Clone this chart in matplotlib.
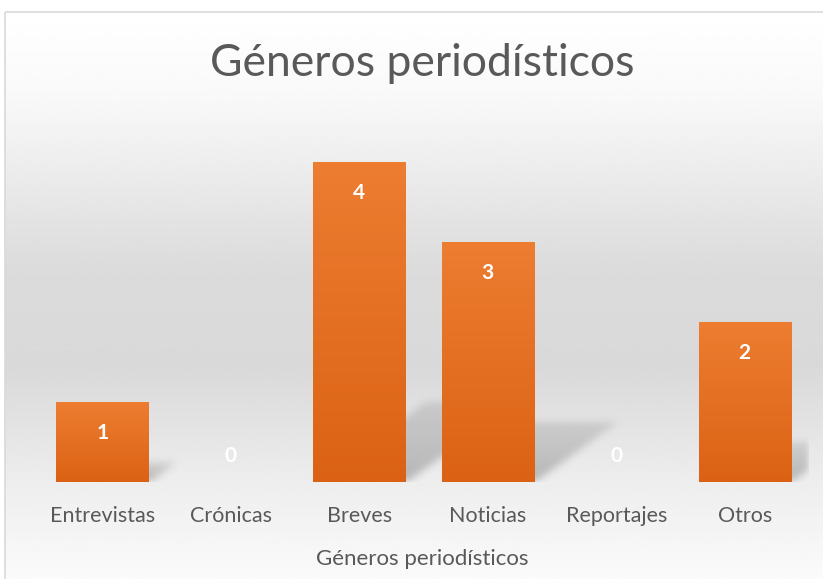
import numpy as np
import matplotlib
matplotlib.use("Agg")
import matplotlib.pyplot as plt
from matplotlib.path import Path
from matplotlib.patches import Rectangle
from matplotlib.colors import LinearSegmentedColormap

# data
categories = ["Entrevistas", "Crónicas", "Breves", "Noticias", "Reportajes", "Otros"]
values = [1, 0, 4, 3, 0, 2]
title = "Géneros periodísticos"
x_label = "Géneros periodísticos"

FONT = ["Lato", "DejaVu Sans"]
TEXT_GRAY = "#595959"
BAR_TOP = "#ED7D31"
BAR_BOTTOM = "#DB6214"

W, H = 823, 579
fig = plt.figure(figsize=(W / 100, H / 100), dpi=100)

# background with the gradient fill of the chart area
bg = fig.add_axes([0, 0, 1, 1])
bg.set_xlim(0, W)
bg.set_ylim(H, 0)
bg.axis("off")
stops = [(0.0, 1.0), (0.15, 0.975), (0.45, 0.86), (0.62, 0.85), (0.82, 0.93), (1.0, 0.985)]
ys = np.linspace(0, 1, 400)
shade = np.interp(ys, [s[0] for s in stops], [s[1] for s in stops])
grad = np.repeat(shade[:, None], 2, axis=1)
bg.imshow(grad, cmap="gray", vmin=0, vmax=1, extent=[5, W + 5, H + 5, 11],
          aspect="auto", interpolation="bilinear")
bg.add_patch(Rectangle((5.5, 11.5), W, H, fill=False, edgecolor="#d9d9d9", lw=1.2))
bg.text(422, 63, title, ha="center", va="center", fontsize=32,
        color=TEXT_GRAY, family=FONT)
bg.text(422, 559, x_label, ha="center", va="center", fontsize=16,
        color=TEXT_GRAY, family=FONT)

ax = fig.add_axes([38 / W, (H - 482) / H, (809 - 38) / W, (482 - 122) / H])
ax.patch.set_visible(False)
x = np.arange(len(categories))
width = 0.716
ax.set_xlim(-0.5, len(categories) - 0.5)
ax.set_ylim(0, 4.5)
for s in ax.spines.values():
    s.set_visible(False)
ax.set_yticks([])
ax.set_xticks(x)
ax.set_xticklabels(categories, fontsize=15.5, color=TEXT_GRAY, family=FONT)
ax.tick_params(axis="x", length=0, pad=17)

# soft perspective shadows
gx = np.linspace(-0.5, len(categories) - 0.5, 780)
gy = np.linspace(0, 4.5, 360)
GX, GY = np.meshgrid(gx, gy)
pts = np.c_[GX.ravel(), GY.ravel()]
mask = np.zeros_like(GX)
sx, sy = 0.22, 0.25
for xi, v in zip(x, values):
    if v == 0:
        continue
    poly = Path([(xi - width / 2, -0.02), (xi + width / 2, -0.02),
                 (xi + width / 2 + v * sx, v * sy), (xi - width / 2 + v * sx, v * sy),
                 (xi - width / 2, -0.02)])
    inside = poly.contains_points(pts).reshape(GX.shape).astype(float)
    fade = np.clip(1 - 0.55 * GY / (v * sy), 0, 1)
    mask = np.maximum(mask, inside * fade)

def box_blur(a, k):
    kern = np.ones(k) / k
    a = np.apply_along_axis(lambda r: np.convolve(r, kern, mode="same"), 1, a)
    a = np.apply_along_axis(lambda c: np.convolve(c, kern, mode="same"), 0, a)
    return a

mask = box_blur(box_blur(mask, 9), 9)
rgba = np.zeros(mask.shape + (4,))
rgba[..., :3] = 0.42
rgba[..., 3] = mask * 0.42
ax.imshow(rgba, extent=[gx[0], gx[-1], 0, 4.5], origin="lower",
          aspect="auto", zorder=1, interpolation="bilinear")

# bars with a vertical gradient
bars = ax.bar(x, values, width=width, color="none", edgecolor="none", zorder=2)
cmap = LinearSegmentedColormap.from_list("bar", [BAR_BOTTOM, BAR_TOP])
vgrad = np.linspace(0, 1, 256)[:, None]
for b in bars:
    h = b.get_height()
    if h <= 0:
        continue
    x0 = b.get_x()
    im = ax.imshow(vgrad, cmap=cmap, extent=[x0, x0 + b.get_width(), 0, h],
                   origin="lower", aspect="auto", zorder=2)
    im.set_clip_path(b)

ax.set_xlim(-0.5, len(categories) - 0.5)
ax.set_ylim(0, 4.5)

# data labels
for xi, v in zip(x, values):
    off = -22 if v > 0 else 19
    ax.annotate(str(v), (xi, v), xytext=(0, off), textcoords="offset points",
                ha="center", va="center", fontsize=15, fontweight="bold",
                color="white", family=FONT, zorder=4)

fig.savefig("out.png", dpi=100)
